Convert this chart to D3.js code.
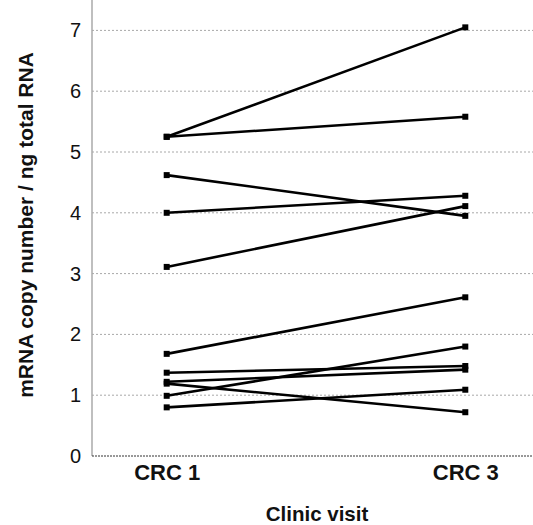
<!DOCTYPE html>
<html>
<head>
<meta charset="utf-8">
<script src="https://cdn.jsdelivr.net/npm/d3@7"></script>
<style>
  html, body { margin: 0; padding: 0; background: #fff; }
  svg { display: block; font-family: "Liberation Sans", Arial, sans-serif; }
</style>
</head>
<body>
<svg id="chart" width="533" height="525"></svg>
<script>
// Paired measurements per patient at two clinic visits
const visits = ["CRC 1", "CRC 3"];
const crc1 = [5.25, 5.25, 4.62, 4.00, 3.11, 1.68, 1.37, 1.22, 1.19, 0.99, 0.80];
const crc3 = [7.05, 5.58, 3.95, 4.28, 4.11, 2.61, 1.48, 1.42, 0.72, 1.80, 1.09];
const yTicks = [0, 1, 2, 3, 4, 5, 6, 7];

const svg = d3.select("#chart");
const plotLeft = 92, plotRight = 533, plotTop = 0, plotBottom = 456;

const x = d3.scalePoint().domain(visits).range([166.7, 465.3]);
const y = d3.scaleLinear().domain([0, 7.5]).range([plotBottom, plotTop]);

// Horizontal gridlines
svg.append("g")
  .selectAll("line")
  .data(yTicks.filter(d => d > 0))
  .join("line")
  .attr("x1", plotLeft).attr("x2", plotRight)
  .attr("y1", d => y(d)).attr("y2", d => y(d))
  .attr("stroke", "#a8a8a8")
  .attr("stroke-width", 1)
  .attr("stroke-dasharray", "2,2");

// Y axis
const yAxis = svg.append("g")
  .attr("transform", `translate(${plotLeft},0)`)
  .call(d3.axisLeft(y).tickValues(yTicks).tickSize(0).tickPadding(11).tickFormat(d3.format("d")));
yAxis.select(".domain").remove();
yAxis.selectAll("text")
  .attr("font-size", 20)
  .attr("fill", "#111")
  .attr("font-family", "Liberation Sans, Arial, sans-serif");

svg.append("line")
  .attr("x1", plotLeft).attr("x2", plotLeft)
  .attr("y1", plotTop).attr("y2", plotBottom)
  .attr("stroke", "#aaa")
  .attr("stroke-width", 1.5);

// Baseline
svg.append("line")
  .attr("x1", plotLeft).attr("x2", plotRight)
  .attr("y1", y(0)).attr("y2", y(0))
  .attr("stroke", "#333")
  .attr("stroke-width", 1)
  .attr("stroke-dasharray", "2,1");

// X axis labels
const xAxis = svg.append("g")
  .attr("transform", `translate(0,${plotBottom})`)
  .call(d3.axisBottom(x).tickSize(0).tickPadding(8));
xAxis.select(".domain").remove();
xAxis.selectAll("text")
  .attr("font-size", 22)
  .attr("font-weight", "bold")
  .attr("fill", "#111")
  .attr("font-family", "Liberation Sans, Arial, sans-serif");

// Axis titles
svg.append("text")
  .attr("x", 317).attr("y", 521)
  .attr("text-anchor", "middle")
  .attr("font-size", 20.5)
  .attr("font-weight", "bold")
  .attr("fill", "#111")
  .text("Clinic visit");

svg.append("text")
  .attr("transform", "translate(32.5,225) rotate(-90)")
  .attr("text-anchor", "middle")
  .attr("font-size", 21)
  .attr("font-weight", "bold")
  .attr("fill", "#111")
  .text("mRNA copy number / ng total RNA");

// Patient lines
const pairs = crc1.map((v, i) => [[visits[0], v], [visits[1], crc3[i]]]);
const line = d3.line().x(d => x(d[0])).y(d => y(d[1]));

svg.append("g")
  .selectAll("path")
  .data(pairs)
  .join("path")
  .attr("d", line)
  .attr("fill", "none")
  .attr("stroke", "#000")
  .attr("stroke-width", 2.6);

// Square markers
const pts = pairs.flat();
const s = 6;
svg.append("g")
  .selectAll("rect")
  .data(pts)
  .join("rect")
  .attr("x", d => x(d[0]) - s / 2)
  .attr("y", d => y(d[1]) - s / 2)
  .attr("width", s).attr("height", s)
  .attr("fill", "#000");
</script>
</body>
</html>
